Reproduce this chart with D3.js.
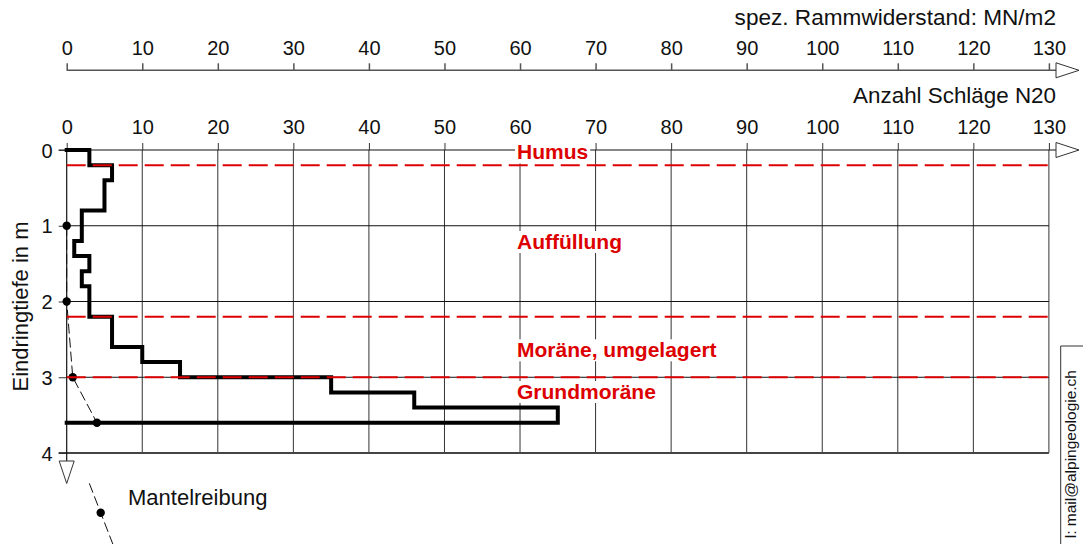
<!DOCTYPE html>
<html>
<head>
<meta charset="utf-8">
<script src="https://cdn.jsdelivr.net/npm/d3@7"></script>
<style>
  body { margin: 0; background: #fff; }
  svg { display: block; font-family: "Liberation Sans", Arial, sans-serif; }
</style>
</head>
<body>
<div id="chart"></div>
<script>
const width = 1083;
const height = 544;

// blow counts N20 per 0.2 m step (depth of step top in m)
const stepTop = [0, 0.2, 0.4, 0.6, 0.8, 1.0, 1.2, 1.4, 1.6, 1.8, 2.0, 2.2, 2.4, 2.6, 2.8, 3.0, 3.2, 3.4];
const blows   = [3, 6, 5, 5, 2, 2, 1, 3, 2, 3, 3, 6, 6, 10, 15, 35, 46, 65];
const stepSize = 0.2;

// Mantelreibung points
const mantelDepth = [1, 2, 3, 3.6];
const mantelValue = [0, 0, 0.8, 4];

// layer boundaries and names (label baseline depth)
const layerLines = [0.2, 2.2, 3.0];
const layerNames = ["Humus", "Auffüllung", "Moräne, umgelagert", "Grundmoräne"];
const layerLabelDepth = [0.125, 1.307, 2.737, 3.287];

const xTicks = d3.range(0, 131, 10);
const yTicks = [0, 1, 2, 3, 4];

const red = "#dd0000";

const svg = d3.select("#chart")
    .append("svg")
    .attr("width", width)
    .attr("height", height);

const x = d3.scaleLinear().domain([0, 130]).range([66.7, 1048.9]);
const y = d3.scaleLinear().domain([0, 4]).range([150, 453]);
const axisEnd = 1056;

// arrow head (outline triangle) at the right of a horizontal axis
function arrowRight(yPos) {
    svg.append("path")
        .attr("d", `M${axisEnd},${yPos - 7.5} L${axisEnd + 23},${yPos} L${axisEnd},${yPos + 7.5} Z`)
        .attr("fill", "#fff")
        .attr("stroke", "#333")
        .attr("stroke-width", 1);
}

// ---- top axis: spez. Rammwiderstand
const topY = 70.3;
svg.append("line")
    .attr("x1", x(0)).attr("x2", axisEnd)
    .attr("y1", topY).attr("y2", topY)
    .attr("stroke", "#555").attr("stroke-width", 1.5);
arrowRight(topY);
const topAxis = svg.append("g")
    .attr("transform", `translate(0,${topY})`)
    .call(d3.axisTop(x).tickValues(xTicks).tickSize(7).tickSizeOuter(0).tickPadding(8));
topAxis.select(".domain").remove();
topAxis.selectAll(".tick line").attr("stroke", "#555").attr("stroke-width", 1.5);
topAxis.selectAll("text").attr("font-size", 20).attr("fill", "#111").style("font-family", "Liberation Sans, Arial, sans-serif");

svg.append("text")
    .attr("x", axisEnd).attr("y", 25)
    .attr("text-anchor", "end")
    .attr("font-size", 22.6).attr("fill", "#111")
    .text("spez. Rammwiderstand: MN/m2");

// ---- main axis: Anzahl Schläge N20
svg.append("text")
    .attr("x", axisEnd).attr("y", 103)
    .attr("text-anchor", "end")
    .attr("font-size", 22.4).attr("fill", "#111")
    .text("Anzahl Schläge N20");

// grid
const grid = svg.append("g");
grid.selectAll("line.v")
    .data(xTicks.slice(1))
    .enter().append("line")
    .attr("x1", d => x(d)).attr("x2", d => x(d))
    .attr("y1", y(0)).attr("y2", y(4))
    .attr("stroke", "#333").attr("stroke-width", 1);
grid.selectAll("line.h")
    .data([1, 2, 3])
    .enter().append("line")
    .attr("x1", x(0)).attr("x2", x(130))
    .attr("y1", d => y(d)).attr("y2", d => y(d))
    .attr("stroke", "#111").attr("stroke-width", 1);
grid.append("line")
    .attr("x1", x(0) - 8).attr("x2", x(130))
    .attr("y1", y(4)).attr("y2", y(4))
    .attr("stroke", "#444").attr("stroke-width", 2);

svg.append("line")
    .attr("x1", x(0) - 8).attr("x2", axisEnd)
    .attr("y1", y(0)).attr("y2", y(0))
    .attr("stroke", "#111").attr("stroke-width", 1.2);
arrowRight(y(0));
const mainAxis = svg.append("g")
    .attr("transform", `translate(0,${y(0)})`)
    .call(d3.axisTop(x).tickValues(xTicks).tickSize(7).tickSizeOuter(0).tickPadding(9));
mainAxis.select(".domain").remove();
mainAxis.selectAll(".tick line").attr("stroke", "#333");
mainAxis.selectAll("text").attr("font-size", 20).attr("fill", "#111").style("font-family", "Liberation Sans, Arial, sans-serif");

// ---- y axis
const yAxis = svg.append("g")
    .attr("transform", `translate(${x(0)},0)`)
    .call(d3.axisLeft(y).tickValues(yTicks).tickSize(8).tickSizeOuter(0).tickPadding(6).tickFormat(d3.format("d")));
yAxis.select(".domain").remove();
yAxis.selectAll(".tick line").attr("stroke", "#333");
yAxis.selectAll("text").attr("font-size", 20).attr("fill", "#111").attr("dy", "0.36em").style("font-family", "Liberation Sans, Arial, sans-serif");
svg.append("line")
    .attr("x1", x(0)).attr("x2", x(0))
    .attr("y1", y(0)).attr("y2", 461)
    .attr("stroke", "#111").attr("stroke-width", 1.2);
svg.append("path")
    .attr("d", `M${x(0) - 7.5},461 L${x(0)},483.5 L${x(0) + 7.5},461 Z`)
    .attr("fill", "#fff").attr("stroke", "#333").attr("stroke-width", 1);

svg.append("text")
    .attr("transform", `translate(28,${(y(0) + y(4)) / 2 + 5}) rotate(-90)`)
    .attr("text-anchor", "middle")
    .attr("font-size", 22).attr("fill", "#111")
    .text("Eindringtiefe in m");

// ---- white boxes behind layer labels (hide grid only)
const boxes = svg.append("g");

// ---- step line of blow counts
const steps = [[0, 0]];
blows.forEach((b, i) => {
    steps.push([b, stepTop[i]]);
    steps.push([b, stepTop[i] + stepSize]);
});
steps.push([0, stepTop[stepTop.length - 1] + stepSize]);
svg.append("path")
    .datum(steps)
    .attr("d", d3.line().x(d => x(d[0])).y(d => y(d[1])))
    .attr("fill", "none")
    .attr("stroke", "#000")
    .attr("stroke-width", 4)
    .attr("stroke-linejoin", "miter")
    .attr("stroke-linecap", "square");

// ---- Mantelreibung
const mantel = mantelDepth.map((d, i) => [mantelValue[i], d]);
svg.append("path")
    .datum(mantel)
    .attr("d", d3.line().x(d => x(d[0])).y(d => y(d[1])))
    .attr("fill", "none")
    .attr("stroke", "#111")
    .attr("stroke-width", 1)
    .attr("stroke-dasharray", "10,4");
svg.selectAll("circle.mantel")
    .data(mantel)
    .enter().append("circle")
    .attr("cx", d => x(d[0])).attr("cy", d => y(d[1]))
    .attr("r", 4.2)
    .attr("fill", "#000");

// ---- layer boundary lines
svg.selectAll("line.layer")
    .data(layerLines)
    .enter().append("line")
    .attr("x1", x(0)).attr("x2", x(130))
    .attr("y1", d => y(d)).attr("y2", d => y(d))
    .attr("stroke", red)
    .attr("stroke-width", 2)
    .attr("stroke-dasharray", "19,7");

// ---- layer labels
const labels = svg.append("g");
layerNames.forEach((name, i) => {
    const t = labels.append("text")
        .attr("x", 517)
        .attr("y", y(layerLabelDepth[i]))
        .attr("font-size", 21)
        .attr("font-weight", "bold")
        .attr("fill", red)
        .text(name);
    const bb = t.node().getBBox();
    boxes.append("rect")
        .attr("x", bb.x - 2).attr("y", bb.y + 1)
        .attr("width", bb.width + 4).attr("height", bb.height - 1)
        .attr("fill", "#fff");
});

// ---- legend
svg.append("line")
    .attr("x1", 89.3).attr("y1", 483.3)
    .attr("x2", 119).attr("y2", 560)
    .attr("stroke", "#111").attr("stroke-width", 1)
    .attr("stroke-dasharray", "10,4");
svg.append("circle")
    .attr("cx", 100.7).attr("cy", 512.7).attr("r", 4.2).attr("fill", "#000");
svg.append("text")
    .attr("x", 128).attr("y", 505)
    .attr("font-size", 22).attr("fill", "#111")
    .text("Mantelreibung");

// ---- side box with contact
svg.append("path")
    .attr("d", "M1060.7,544 L1060.7,346 L1084,346")
    .attr("fill", "none").attr("stroke", "#333").attr("stroke-width", 1);
svg.append("text")
    .attr("transform", "translate(1076,370) rotate(-90)")
    .attr("text-anchor", "end")
    .attr("font-size", 15.5).attr("fill", "#111")
    .text("l: mail@alpingeologie.ch");
</script>
</body>
</html>
